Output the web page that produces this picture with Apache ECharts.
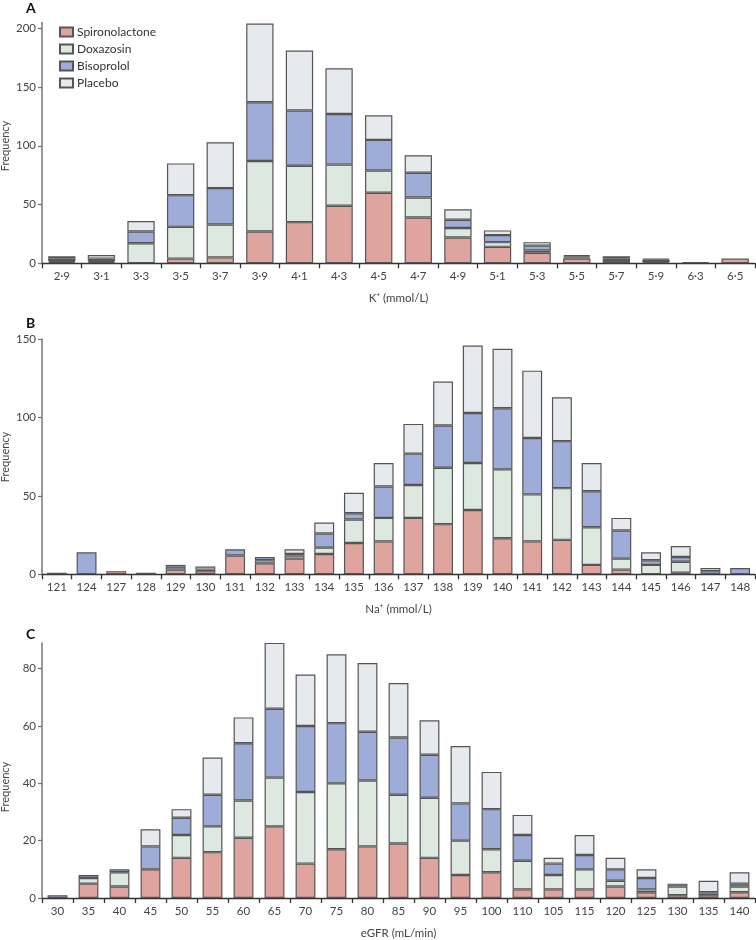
<!DOCTYPE html>
<html>
<head>
<meta charset="utf-8">
<script src="https://cdn.jsdelivr.net/npm/echarts@6/dist/echarts.min.js"></script>
<style>
html,body{margin:0;padding:0;background:#fff;}
#chart{width:756px;height:940px;}
</style>
</head>
<body>
<div id="chart"></div>
<script>
// Panel A: K+ (mmol/L)
const kCategories = ['2·9','3·1','3·3','3·5','3·7','3·9','4·1','4·3','4·5','4·7','4·9','5·1','5·3','5·5','5·7','5·9','6·3','6·5'];
const kSpironolactone = [1,1,0,4,5,27,35,49,60,39,22,14,9,4,2,1,0,4];
const kDoxazosin      = [1,1,17,27,28,60,48,35,19,17,8,4,2,1,2,0,0,0];
const kBisoprolol     = [2,2,10,27,31,50,47,43,26,21,7,6,4,1,0,2,1,0];
const kPlacebo        = [2,3,9,27,39,67,51,39,21,15,9,4,3,1,2,1,0,0];

// Panel B: Na+ (mmol/L)
const naCategories = ['121','124','127','128','129','130','131','132','133','134','135','136','137','138','139','140','141','142','143','144','145','146','147','148'];
const naSpironolactone = [1,0,2,0,3,2,12,7,10,13,20,21,36,32,41,23,21,22,6,3,0,1,0,0];
const naDoxazosin      = [0,0,0,0,0,0,0,2,2,4,15,15,21,36,30,44,30,33,24,7,6,7,0,0];
const naBisoprolol     = [0,14,0,0,2,1,4,2,1,9,4,20,20,27,32,39,36,30,23,18,3,3,2,4];
const naPlacebo        = [0,0,0,1,1,2,0,0,3,7,13,15,19,28,43,38,43,28,18,8,5,7,2,0];

// Panel C: eGFR (mL/min)
const egfrCategories = ['30','35','40','45','50','55','60','65','70','75','80','85','90','95','100','110','105','115','120','125','130','135','140'];
const egfrSpironolactone = [0,5,4,10,14,16,21,25,12,17,18,19,14,8,9,3,3,3,4,2,1,1,2];
const egfrDoxazosin      = [0,2,5,0,8,9,13,17,25,23,23,17,21,12,8,10,5,7,2,1,3,0,2];
const egfrBisoprolol     = [1,1,1,8,6,11,20,24,23,21,17,20,15,13,14,9,4,5,4,4,1,1,1];
const egfrPlacebo        = [0,0,0,6,3,13,9,23,18,24,24,19,12,20,13,7,2,7,4,3,0,4,4];

const seriesNames = ['Spironolactone','Doxazosin','Bisoprolol','Placebo'];
const seriesColors = ['#e0a49f','#dde8e1','#9eadd7','#e6eaee'];

const FONT = 'Lato';
const labelColor = '#444';

const panels = [
  {cats:kCategories, data:[kSpironolactone,kDoxazosin,kBisoprolol,kPlacebo], top:22.4, bottom:676.7, max:205, ticks:[0,50,100,150,200], name:'K⁺ (mmol/L)', bw:'69%'},
  {cats:naCategories, data:[naSpironolactone,naDoxazosin,naBisoprolol,naPlacebo], top:339.3, bottom:365.7, max:150, ticks:[0,50,100,150], name:'Na⁺ (mmol/L)', bw:'67%'},
  {cats:egfrCategories, data:[egfrSpironolactone,egfrDoxazosin,egfrBisoprolol,egfrPlacebo], top:642.9, bottom:35.7, max:89, ticks:[0,20,40,60,80], name:'eGFR (mL/min)', bw:'64%'}
];

const grid = [], xAxis = [], yAxis = [], series = [];
panels.forEach((p, i) => {
  grid.push({left:42, right:1, top:p.top, bottom:p.bottom, containLabel:false});
  xAxis.push({
    type:'category', gridIndex:i, data:p.cats,
    axisLine:{lineStyle:{color:'#333', width:1.3}},
    axisTick:{show:true, length:5, lineStyle:{color:'#333', width:1.3}},
    axisLabel:{color:labelColor, fontFamily:FONT, fontSize:11.5, margin:7, interval:0},
    name:p.name, nameLocation:'middle', nameGap:29,
    nameTextStyle:{color:labelColor, fontFamily:FONT, fontSize:11.5}
  });
  yAxis.push({
    type:'value', gridIndex:i, min:0, max:p.max,
    splitLine:{show:false},
    axisLine:{show:true, lineStyle:{color:'#777', width:1.5}},
    axisTick:{show:true, length:4, customValues:p.ticks, lineStyle:{color:'#777', width:1.3}},
    axisLabel:{color:labelColor, fontFamily:FONT, fontSize:11.5, margin:6, customValues:p.ticks}
  });
  p.data.forEach((d, k) => {
    series.push({
      type:'bar', name:seriesNames[k], xAxisIndex:i, yAxisIndex:i,
      stack:'s'+i, data:d.map(v => v === 0 ? '-' : v), barWidth:p.bw, clip:false,
      itemStyle:{color:seriesColors[k], borderColor:'#555', borderWidth:1.2},
      emphasis:{disabled:true}, animation:false
    });
  });
});

const chart = echarts.init(document.getElementById('chart'), null, {renderer:'canvas'});
chart.setOption({
  animation:false,
  backgroundColor:'#fff',
  grid, xAxis, yAxis, series,
  legend:{
    data:seriesNames, orient:'vertical', left:54, top:21,
    itemWidth:13, itemHeight:9, itemGap:5, icon:'rect',
    textStyle:{color:'#333', fontFamily:FONT, fontSize:12, padding:[0,0,0,-1]},
    selectedMode:false
  },
  graphic:[
    {type:'text', left:26, top:1, style:{text:'A', font:'bold 14px '+FONT, fill:'#111'}},
    {type:'text', left:26, top:316, style:{text:'B', font:'bold 14px '+FONT, fill:'#111'}},
    {type:'text', left:26, top:627, style:{text:'C', font:'bold 14px '+FONT, fill:'#111'}},
    {type:'text', x:5, y:146, rotation:Math.PI/2, style:{text:'Frequency', font:'11px '+FONT, fill:labelColor, align:'center', verticalAlign:'middle'}},
    {type:'text', x:5, y:457, rotation:Math.PI/2, style:{text:'Frequency', font:'11px '+FONT, fill:labelColor, align:'center', verticalAlign:'middle'}},
    {type:'text', x:5, y:787, rotation:Math.PI/2, style:{text:'Frequency', font:'11px '+FONT, fill:labelColor, align:'center', verticalAlign:'middle'}}
  ]
});
</script>
</body>
</html>
